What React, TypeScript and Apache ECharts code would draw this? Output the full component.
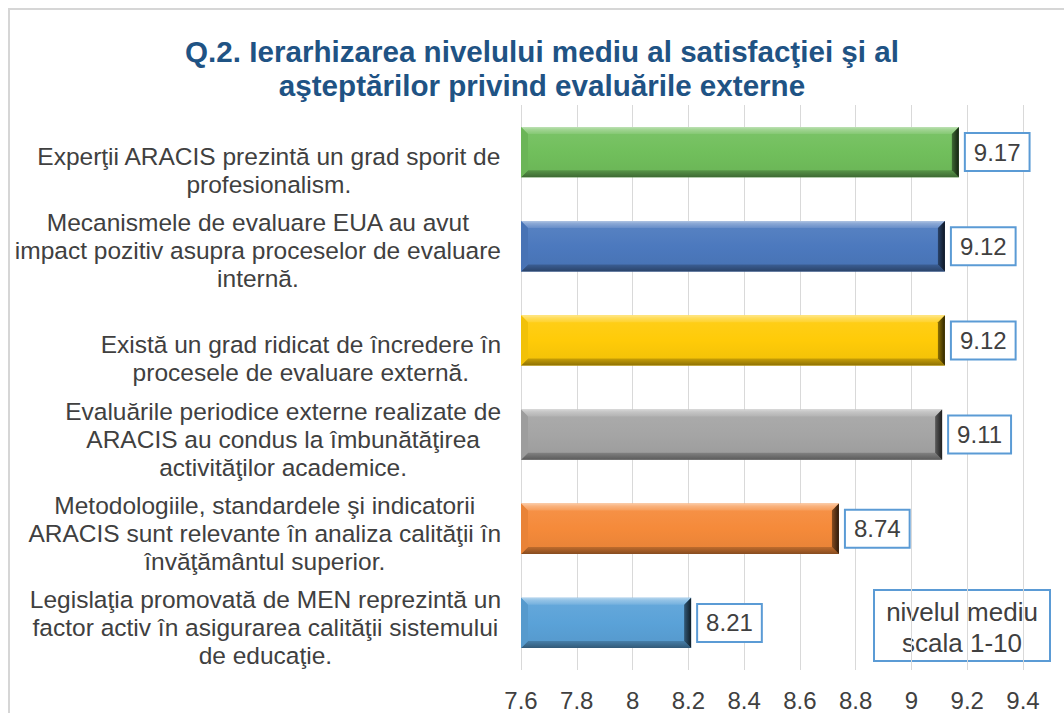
import React, { useEffect, useRef } from "react";
import * as echarts from "echarts";

const TITLE_LINES = [
  "Q.2. Ierarhizarea nivelului mediu al satisfacţiei şi al",
  "aşteptărilor privind evaluările externe",
];

const categories = [
  "Experţii ARACIS prezintă un grad sporit de\nprofesionalism.",
  "Mecanismele de evaluare EUA au avut\nimpact pozitiv asupra proceselor de evaluare\ninternă.",
  "Există un grad ridicat de încredere în\nprocesele de evaluare externă.",
  "Evaluările periodice externe realizate de\nARACIS au condus la îmbunătăţirea\nactivităţilor academice.",
  "Metodologiile, standardele şi indicatorii\nARACIS sunt relevante în analiza calităţii în\nînvăţământul superior.",
  "Legislaţia promovată de MEN reprezintă un\nfactor activ în asigurarea calităţii sistemului\nde educaţie.",
];

const values = [9.17, 9.12, 9.12, 9.11, 8.74, 8.21];

const X_MIN = 7.6;
const X_MAX = 9.4;
const X_INTERVAL = 0.2;

const NOTE_LINES = ["nivelul mediu", "scala 1-10"];

const BAR_MAIN = ["#71BF5C", "#4C79BE", "#FFCB08", "#A5A5A5", "#F58A3A", "#5AA2D8"];

const FONT = "'Liberation Sans', Arial, sans-serif";

function mix(hex: string, target: string, t: number): string {
  const p = (h: string) => [
    parseInt(h.slice(1, 3), 16),
    parseInt(h.slice(3, 5), 16),
    parseInt(h.slice(5, 7), 16),
  ];
  const a = p(hex);
  const b = p(target);
  const r = a.map((v, i) => Math.round(v + (b[i] - v) * t));
  return "rgb(" + r.join(",") + ")";
}

export default function App() {
  const ref = useRef<HTMLDivElement>(null);

  useEffect(() => {
    if (!ref.current) return;
    const chart = echarts.init(ref.current, undefined, { renderer: "svg" });

    const renderItem = (params: any, api: any) => {
      const ci = api.value(0) as number;
      const val = api.value(1) as number;
      const p0 = api.coord([X_MIN, ci]);
      const p1 = api.coord([val, ci]);
      const band = api.size([0, 1])[1];
      const h = band * 0.535;
      const x0 = p0[0];
      const x1 = p1[0];
      const yc = p0[1];
      const y0 = yc - h / 2;
      const y1 = yc + h / 2;
      const b = 7;
      const main = BAR_MAIN[ci % BAR_MAIN.length];
      return {
        type: "group",
        children: [
          {
            type: "rect",
            shape: { x: x0, y: y0, width: x1 - x0, height: h },
            style: {
              fill: new echarts.graphic.LinearGradient(0, 0, 0, 1, [
                { offset: 0, color: mix(main, "#ffffff", 0.08) },
                { offset: 0.5, color: main },
                { offset: 1, color: mix(main, "#000000", 0.06) },
              ]),
            },
          },
          {
            type: "polygon",
            shape: { points: [[x0, y0], [x1, y0], [x1 - b, y0 + b], [x0 + b, y0 + b]] },
            style: {
              fill: new echarts.graphic.LinearGradient(0, 0, 0, 1, [
                { offset: 0, color: mix(main, "#ffffff", 0.55) },
                { offset: 0.35, color: mix(main, "#ffffff", 0.35) },
                { offset: 1, color: mix(main, "#ffffff", 0.15) },
              ]),
            },
          },
          {
            type: "polygon",
            shape: { points: [[x0, y1], [x1, y1], [x1 - b, y1 - b], [x0 + b, y1 - b]] },
            style: {
              fill: new echarts.graphic.LinearGradient(0, 0, 0, 1, [
                { offset: 0, color: mix(main, "#000000", 0.22) },
                { offset: 1, color: mix(main, "#000000", 0.45) },
              ]),
            },
          },
          {
            type: "polygon",
            shape: { points: [[x0, y0], [x0 + b, y0 + b], [x0 + b, y1 - b], [x0, y1]] },
            style: { fill: mix(main, "#000000", 0.05) },
          },
          {
            type: "polygon",
            shape: { points: [[x1, y0], [x1, y1], [x1 - b, y1 - b], [x1 - b, y0 + b]] },
            style: {
              fill: new echarts.graphic.LinearGradient(0, 0, 1, 0, [
                { offset: 0, color: mix(main, "#000000", 0.45) },
                { offset: 1, color: mix(main, "#000000", 0.82) },
              ]),
            },
          },
        ],
      };
    };

    const option: any = {
      animation: false,
      backgroundColor: "#ffffff",
      textStyle: { fontFamily: FONT },
      title: {
        text: TITLE_LINES.join("\n"),
        left: 537,
        top: 29,
        textAlign: "center",
        textStyle: {
          fontFamily: FONT,
          fontSize: 29.6,
          fontWeight: "bold",
          color: "#1F5384",
          lineHeight: 34,
        },
      },
      grid: { left: 521, right: 41, top: 105, bottom: 43, containLabel: false },
      xAxis: {
        type: "value",
        min: X_MIN,
        max: X_MAX,
        interval: X_INTERVAL,
        axisLine: { show: false },
        axisTick: { show: false },
        splitLine: { show: true, lineStyle: { color: "#d9d9d9", width: 1 } },
        axisLabel: {
          margin: 18,
          fontSize: 24,
          color: "#404040",
          fontFamily: FONT,
          formatter: (v: number) => String(Math.round(v * 10) / 10),
        },
      },
      yAxis: {
        type: "category",
        data: categories,
        inverse: true,
        axisLine: { show: false },
        axisTick: { show: false },
        splitLine: { show: false },
        axisLabel: {
          interval: 0,
          showMinLabel: true,
          showMaxLabel: true,
          hideOverlap: false,
          margin: 20,
          fontSize: 24.5,
          lineHeight: 28,
          color: "#404040",
          fontFamily: FONT,
          padding: [9, 0, 0, 0],
          formatter: (v: string) => {
            const lines = v.split("\n");
            const body = lines.map((l) => "{c|" + l + "}").join("\n");
            return lines.length === 2 ? "{c| }\n" + body : body;
          },
          rich: {
            c: {
              align: "center",
              fontSize: 24.5,
              lineHeight: 28,
              color: "#404040",
              fontFamily: FONT,
            },
          },
        },
      },
      series: [
        {
          type: "custom",
          renderItem,
          encode: { x: 1, y: 0 },
          data: values.map((v, i) => [i, v]),
          z: 2,
        },
        {
          type: "bar",
          data: values,
          barWidth: "53.5%",
          itemStyle: { color: "rgba(0,0,0,0)" },
          z: 3,
          label: {
            show: true,
            position: "right",
            distance: 7,
            formatter: (p: any) => Number(p.value).toFixed(2),
            fontSize: 24,
            lineHeight: 24,
            color: "#404040",
            fontFamily: FONT,
            backgroundColor: "#ffffff",
            borderColor: "#5B9BD5",
            borderWidth: 2,
            padding: [6, 8, 6, 8],
          },
        },
      ],
      graphic: [
        {
          type: "rect",
          silent: true,
          z: 0,
          shape: { x: 9, y: 9, width: 1300, height: 900 },
          style: { fill: "none", stroke: "#d6d6d6", lineWidth: 2 },
        },
        {
          type: "group",
          z: 10,
          children: [
            {
              type: "rect",
              shape: { x: 874, y: 590, width: 176, height: 71 },
              style: { fill: "#ffffff", stroke: "#5B9BD5", lineWidth: 2 },
            },
            {
              type: "text",
              x: 962,
              y: 627,
              style: {
                text: NOTE_LINES.join("\n"),
                fontSize: 26,
                lineHeight: 31,
                align: "center",
                verticalAlign: "middle",
                fill: "#404040",
                fontFamily: FONT,
              },
            },
          ],
        },
      ],
    };

    chart.setOption(option);
    return () => chart.dispose();
  }, []);

  return (
    <div
      ref={ref}
      style={{ position: "absolute", left: 0, top: 0, width: 1064, height: 713 }}
    />
  );
}
